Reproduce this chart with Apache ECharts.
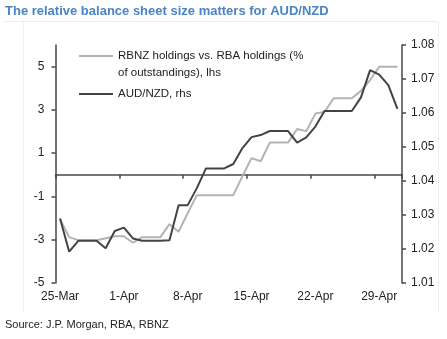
<!DOCTYPE html>
<html><head><meta charset="utf-8">
<script src="https://cdn.jsdelivr.net/npm/echarts@6/dist/echarts.min.js"></script>
<style>html,body{margin:0;padding:0;background:#fff}#c{width:447px;height:339px}</style>
</head><body><div id="c"></div>
<script>
const dates = ['25-Mar','26-Mar','27-Mar','28-Mar','29-Mar','30-Mar','31-Mar',
  '1-Apr','2-Apr','3-Apr','4-Apr','5-Apr','6-Apr','7-Apr',
  '8-Apr','9-Apr','10-Apr','11-Apr','12-Apr','13-Apr','14-Apr',
  '15-Apr','16-Apr','17-Apr','18-Apr','19-Apr','20-Apr','21-Apr',
  '22-Apr','23-Apr','24-Apr','25-Apr','26-Apr','27-Apr','28-Apr',
  '29-Apr','30-Apr','1-May'];
const holdingsSpread = [-2.05,-2.88,-3.02,-3.02,-3.02,-2.93,-2.84,-2.84,-3.14,-2.88,-2.88,-2.88,-2.28,-2.63,-1.77,-0.94,-0.94,-0.94,-0.94,-0.94,-0.06,0.77,0.63,1.49,1.49,1.49,2.12,2.02,2.83,2.90,3.54,3.54,3.54,3.88,4.38,4.99,4.99,4.99];
const audnzd = [1.0290,1.0192,1.0224,1.0224,1.0224,1.0202,1.0253,1.0263,1.0231,1.0224,1.0224,1.0224,1.0226,1.0329,1.0329,1.0379,1.0437,1.0437,1.0437,1.0450,1.0497,1.0529,1.0535,1.0547,1.0547,1.0547,1.0513,1.0528,1.0560,1.0606,1.0606,1.0606,1.0606,1.0646,1.0726,1.0713,1.0682,1.0612];
const leftTicks = [-5,-3,-1,1,3,5];
const rightTicks = [1.01,1.02,1.03,1.04,1.05,1.06,1.07,1.08];
const nameHoldings = 'RBNZ holdings vs. RBA holdings (% of outstandings), lhs';
const nameFx = 'AUD/NZD, rhs';
const titleText = 'The relative balance sheet size matters for AUD/NZD';
const sourceText = 'Source: J.P. Morgan, RBA, RBNZ';

const FONT = '"Liberation Sans", Arial, sans-serif';
const AX = '#474747';
const chart = echarts.init(document.getElementById('c'), null, {renderer: 'canvas'});
chart.setOption({
  animation: false,
  backgroundColor: '#fff',
  textStyle: {fontFamily: FONT},
  title: [
    {text: titleText, left: 5, top: 5, padding: 0,
     textStyle: {fontSize: 13, fontWeight: 'bold', color: '#4a84c2', fontFamily: FONT}},
    {text: sourceText, left: 5, top: 319, padding: 0,
     textStyle: {fontSize: 11, fontWeight: 'normal', color: '#222', fontFamily: FONT}}
  ],
  graphic: [
    {type: 'line', shape: {x1: 5, y1: 21.5, x2: 438, y2: 21.5}, style: {stroke: '#ececec', lineWidth: 1}, silent: true},
    {type: 'line', shape: {x1: 23.5, y1: 22, x2: 23.5, y2: 312}, style: {stroke: '#f0f0f0', lineWidth: 1}, silent: true},
    {type: 'line', shape: {x1: 438.5, y1: 22, x2: 438.5, y2: 312}, style: {stroke: '#f0f0f0', lineWidth: 1}, silent: true}
  ],
  legend: {
    orient: 'vertical', left: 78, top: 30.5, padding: 0, itemGap: 4,
    itemWidth: 34, itemHeight: 14,
    data: [nameHoldings, nameFx],
    itemStyle: {opacity: 0},
    formatter: function (name) {
      return name === nameHoldings ? '\nRBNZ holdings vs. RBA holdings (%\nof outstandings), lhs' : name;
    },
    textStyle: {fontSize: 11.5, lineHeight: 17, color: '#222', fontFamily: FONT}
  },
  grid: {left: 55.5, right: 45, top: 45, bottom: 56, containLabel: false},
  xAxis: [
    {type: 'category', data: dates, boundaryGap: true,
     axisLine: {onZero: true, onZeroAxisIndex: 0, lineStyle: {color: AX, width: 1.5}},
     axisTick: {show: true, interval: 6, length: 4, lineStyle: {color: AX, width: 1.5}},
     axisLabel: {show: false}, splitLine: {show: false}},
    {type: 'category', data: dates, boundaryGap: true, position: 'bottom',
     axisLine: {show: false, onZero: false}, axisTick: {show: false},
     axisLabel: {interval: 6, margin: 8, fontSize: 12, color: '#222', fontFamily: FONT},
     splitLine: {show: false}}
  ],
  yAxis: [
    {type: 'value', min: -5, max: 6, interval: 2, position: 'left',
     axisLine: {show: true, onZero: false, lineStyle: {color: AX, width: 1.5}},
     axisTick: {show: true, length: 4, customValues: leftTicks, lineStyle: {color: AX, width: 1.5}},
     axisLabel: {customValues: leftTicks, margin: 11, fontSize: 12, color: '#222', fontFamily: FONT},
     splitLine: {show: false}},
    {type: 'value', min: 1.01, max: 1.08, interval: 0.01, position: 'right',
     axisLine: {show: true, onZero: false, lineStyle: {color: AX, width: 1.5}},
     axisTick: {show: true, length: 4, customValues: rightTicks, lineStyle: {color: AX, width: 1.5}},
     axisLabel: {customValues: rightTicks, margin: 9, fontSize: 12, color: '#222', fontFamily: FONT,
       formatter: v => v.toFixed(2)},
     splitLine: {show: false}}
  ],
  series: [
    {name: nameHoldings, type: 'line', xAxisIndex: 0, yAxisIndex: 0, data: holdingsSpread,
     symbol: 'none', lineStyle: {color: '#b3b3b3', width: 2}, itemStyle: {color: '#b3b3b3'}},
    {name: nameFx, type: 'line', xAxisIndex: 0, yAxisIndex: 1, data: audnzd,
     symbol: 'none', lineStyle: {color: '#444444', width: 2}, itemStyle: {color: '#444444'}}
  ]
});
</script></body></html>
